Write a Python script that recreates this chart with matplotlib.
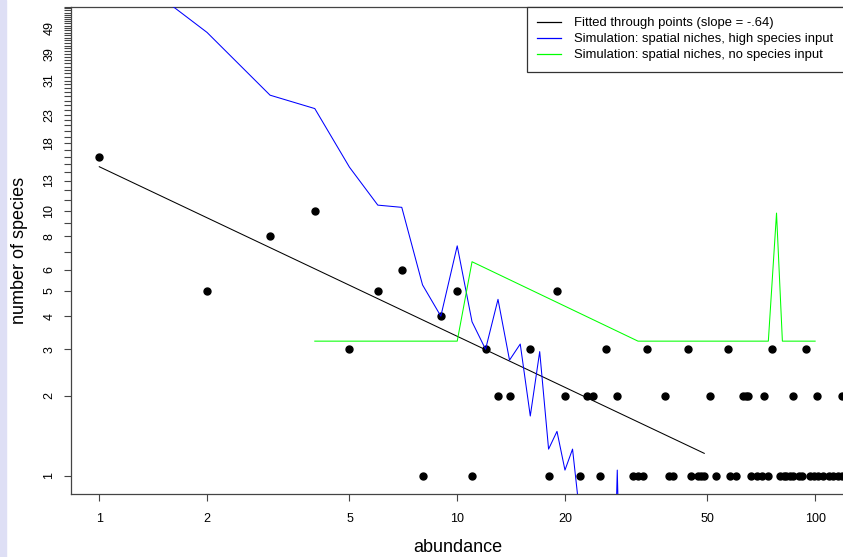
import numpy as np
import matplotlib
matplotlib.use('Agg')
import matplotlib.pyplot as plt
from matplotlib.patches import Rectangle
from matplotlib.lines import Line2D

plt.rcParams['font.family'] = ['Liberation Sans', 'DejaVu Sans']

# observed species-abundance points (abundance, number of species)
pts_x = [1, 2, 6, 10, 19, 3, 4, 7, 9,
         5, 12, 16, 26, 34, 44, 57, 76, 94,
         13, 14, 20, 23, 24, 28, 38, 51, 63, 64, 65, 72, 87, 101, 119,
         8, 11, 18, 22, 25, 31, 32, 33, 39, 40, 45, 47, 48, 49, 53, 58, 60,
         66, 69, 71, 74, 80, 82, 83, 85, 87, 90, 92, 97, 99, 102, 105, 109,
         112, 116, 119]
pts_y = [16, 5, 5, 5, 5, 8, 10, 6, 4,
         3, 3, 3, 3, 3, 3, 3, 3, 3,
         2, 2, 2, 2, 2, 2, 2, 2, 2, 2, 2, 2, 2, 2, 2,
         1, 1, 1, 1, 1, 1, 1, 1, 1, 1, 1, 1, 1, 1, 1, 1, 1,
         1, 1, 1, 1, 1, 1, 1, 1, 1, 1, 1, 1, 1, 1, 1, 1,
         1, 1, 1]

# fitted power law
fit_intercept = 14.66
fit_slope = -0.64
fit_x = np.array([1, 49])

# simulation: spatial niches, high species input
blue_x = list(range(1, 31))
blue_y = [96, 47.1, 27.3, 24.3, 14.6, 10.5, 10.3, 5.25, 4.0, 7.37,
          3.81, 3.0, 4.63, 2.73, 3.14, 1.68, 2.94, 1.26, 1.47, 1.05,
          1.26, 0.71, 0.15, 0.15, 0.15, 0.15, 0.15, 1.05, 0.15, 0.15]

# simulation: spatial niches, no species input
green_x = [4, 10, 11, 32, 74, 78, 81, 100]
green_y = [3.22, 3.22, 6.42, 3.22, 3.22, 9.8, 3.22, 3.22]

legend_labels = ['Fitted through points (slope = -.64)',
                 'Simulation: spatial niches, high species input',
                 'Simulation: spatial niches, no species input']

y_ticks = list(range(1, 60))
y_labels = [1, 2, 3, 4, 5, 6, 8, 10, 13, 18, 23, 31, 39, 49]
x_ticks = [1, 2, 5, 10, 20, 50, 100]

fig = plt.figure(figsize=(8.43, 5.57), dpi=100)
fig.patches.append(Rectangle((0, 0), 6 / 843, 1, transform=fig.transFigure,
                             color='#dedff5', zorder=0))
ax = fig.add_axes([70.7 / 843, 1 - 494 / 557, (844 - 70.7) / 843, (494 - 6.5) / 557])

ax.plot(pts_x, pts_y, 'o', color='black', markersize=5, zorder=3)
ax.plot(fit_x, fit_intercept * fit_x ** fit_slope, color='black', lw=0.75, zorder=4)
ax.plot(blue_x, blue_y, color='blue', lw=0.75, zorder=5)
ax.plot(green_x, green_y, color='#00ff00', lw=0.75, zorder=6)

ax.set_xscale('log')
ax.set_yscale('log')
ax.set_xlim(0.832, 120.4)
ax.set_ylim(0.853, 58.97)

ax.xaxis.set_minor_locator(matplotlib.ticker.NullLocator())
ax.yaxis.set_minor_locator(matplotlib.ticker.NullLocator())
ax.set_xticks(x_ticks)
ax.set_xticklabels([str(v) for v in x_ticks])
ax.set_yticks(y_ticks)
ax.set_yticklabels([str(v) if v in y_labels else '' for v in y_ticks],
                   rotation=90, va='center')

for s in ax.spines.values():
    s.set_color('#444444')
    s.set_linewidth(0.9)
ax.tick_params(axis='both', length=5, width=0.8, color='#444444',
               labelsize=9, direction='out')
ax.tick_params(axis='x', pad=9)
ax.tick_params(axis='y', pad=6)

ax.set_xlabel('abundance', fontsize=13, labelpad=10)
ax.set_ylabel('number of species', fontsize=13, labelpad=11)

handles = [Line2D([], [], color=c, lw=0.9) for c in ['black', 'blue', '#00ff00']]
leg = ax.legend(handles, legend_labels, loc='upper right', bbox_to_anchor=(1.0, 1.0),
                fontsize=9.4, frameon=True, fancybox=False, framealpha=1,
                borderaxespad=0, handlelength=1.85, handletextpad=1.0,
                labelspacing=0.3, borderpad=0.8)
leg.get_frame().set_edgecolor('#333333')
leg.get_frame().set_linewidth(0.9)

fig.savefig('out.png', dpi=100)
